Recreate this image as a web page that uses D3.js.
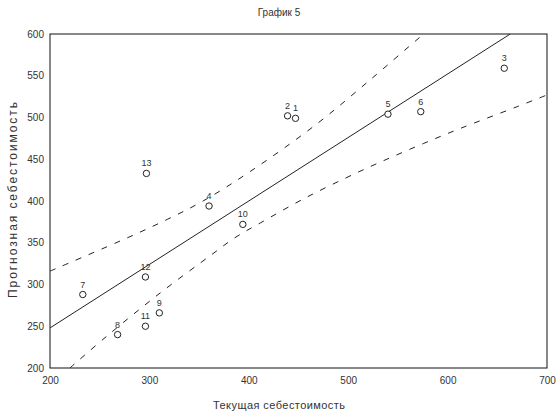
<!DOCTYPE html>
<html><head><meta charset="utf-8">
<script src="https://cdn.jsdelivr.net/npm/d3@7/dist/d3.min.js"></script>
<style>body{margin:0;background:#fff}svg{display:block}</style>
</head><body>
<svg id="chart" width="558" height="414"></svg>
<script>
const labels = ["1","2","3","4","5","6","7","8","9","10","11","12","13"];
const currentCost = [447, 439, 657, 360, 540, 573, 233, 268, 310, 394, 296, 296, 297];
const forecastCost = [499, 502, 559, 394, 504, 507, 288, 240, 266, 372, 250, 309, 433];
const fitLine = [[200, 248], [663, 600]];
const upperBand = [[200,316],[278,356],[318,378],[354,400],[401,435],[467,491],[522,545],[568,592],[576,600]];
const lowerBand = [[220,200],[258,239],[311,290],[364,337],[386,356],[412,374],[459,405],[509,434],[535,448],[576,469],[613,487],[670,513],[700,527]];
const xTicks = [200, 300, 400, 500, 600, 700];
const yTicks = [200, 250, 300, 350, 400, 450, 500, 550, 600];

const svg = d3.select("#chart");
const font = "'Liberation Sans', Arial, sans-serif";
const x = d3.scaleLinear().domain([200, 700]).range([50, 547]);
const y = d3.scaleLinear().domain([200, 600]).range([368, 34]);

svg.append("defs").append("clipPath").attr("id", "clip")
  .append("rect").attr("x", 50).attr("y", 34).attr("width", 497).attr("height", 334);

svg.append("text").attr("x", 279).attr("y", 16).attr("text-anchor", "middle")
  .attr("font-family", font).attr("font-size", 10).attr("fill", "#333").text("График 5");

const xAxis = svg.append("g").attr("transform", "translate(0,368)")
  .call(d3.axisBottom(x).tickValues(xTicks).tickSize(0).tickPadding(9).tickFormat(d3.format("d")));
const yAxis = svg.append("g").attr("transform", "translate(50,0)")
  .call(d3.axisLeft(y).tickValues(yTicks).tickSize(0).tickPadding(6).tickFormat(d3.format("d")));
[xAxis, yAxis].forEach(g => {
  g.select(".domain").remove();
  g.selectAll("text").attr("font-family", font).attr("font-size", 10).attr("fill", "#333");
});

svg.append("rect").attr("x", 50).attr("y", 34).attr("width", 497).attr("height", 334)
  .attr("fill", "none").attr("stroke", "#111").attr("stroke-width", 1);

svg.append("text").attr("x", 279).attr("y", 409).attr("text-anchor", "middle")
  .attr("font-family", font).attr("font-size", 11).attr("fill", "#333")
  .attr("textLength", 132).attr("lengthAdjust", "spacing").text("Текущая себестоимость");
svg.append("text").attr("transform", "translate(17,200) rotate(-90)").attr("text-anchor", "middle")
  .attr("font-family", font).attr("font-size", 12).attr("fill", "#333")
  .attr("textLength", 196).attr("lengthAdjust", "spacing").text("Прогнозная себестоимость");

const plot = svg.append("g").attr("clip-path", "url(#clip)");
const line = d3.line().x(d => x(d[0])).y(d => y(d[1]));
const curve = d3.line().x(d => x(d[0])).y(d => y(d[1])).curve(d3.curveCatmullRom.alpha(0.5));

plot.append("path").datum(fitLine).attr("d", line)
  .attr("fill", "none").attr("stroke", "#222").attr("stroke-width", 1);
[upperBand, lowerBand].forEach(b => {
  plot.append("path").datum(b).attr("d", curve)
    .attr("fill", "none").attr("stroke", "#222").attr("stroke-width", 1)
    .attr("stroke-dasharray", "6,8");
});

const pts = labels.map((l, i) => ({l, cx: currentCost[i], cy: forecastCost[i]}));
plot.selectAll("circle").data(pts).enter().append("circle")
  .attr("cx", d => x(d.cx)).attr("cy", d => y(d.cy)).attr("r", 3.2)
  .attr("fill", "#fff").attr("stroke", "#222").attr("stroke-width", 1);
plot.selectAll("text.lbl").data(pts).enter().append("text").attr("class", "lbl")
  .attr("x", d => x(d.cx)).attr("y", d => y(d.cy) - 7).attr("text-anchor", "middle")
  .attr("font-family", font).attr("font-size", 9).attr("fill", "#333").text(d => d.l);
</script>
</body></html>
